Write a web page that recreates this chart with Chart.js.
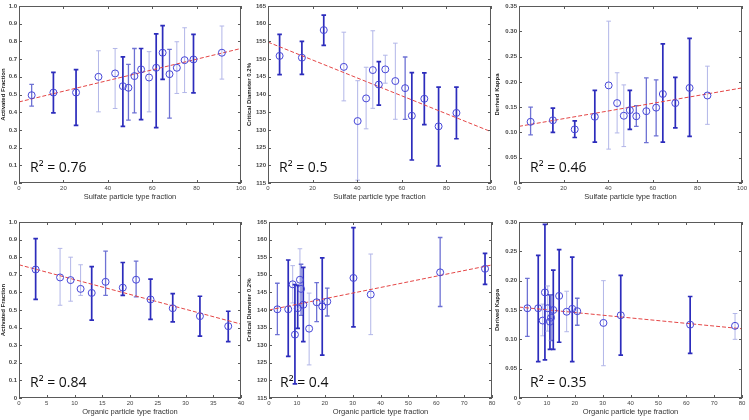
<!DOCTYPE html>
<html>
<head>
<meta charset="utf-8">
<script src="https://cdn.jsdelivr.net/npm/chart.js@4.4.0/dist/chart.umd.min.js"></script>
<style>
  body { margin: 0; background: #fff; }
  #wrap { position: relative; width: 749px; height: 420px; }
  canvas { position: absolute; }
</style>
</head>
<body>
<div id="wrap">
  <canvas id="c1" width="248" height="205" style="left:0;top:0"></canvas>
  <canvas id="c2" width="254" height="205" style="left:244px;top:0"></canvas>
  <canvas id="c3" width="255" height="205" style="left:494px;top:0"></canvas>
  <canvas id="c4" width="248" height="206" style="left:0;top:214px"></canvas>
  <canvas id="c5" width="254" height="206" style="left:244px;top:214px"></canvas>
  <canvas id="c6" width="255" height="206" style="left:494px;top:214px"></canvas>
</div>
<script>
// ---- data ----
// top-left: activated fraction vs sulfate fraction
const sulfX17 = [5.7, 15.5, 25.7, 35.8, 43.3, 46.8, 49.3, 52, 55, 58.6, 61.8, 64.7, 67.8, 71.1, 74.6, 78.6, 91.4];
const sulfAF = [0.496, 0.511, 0.511, 0.600, 0.619, 0.547, 0.538, 0.604, 0.642, 0.596, 0.651, 0.736, 0.615, 0.651, 0.694, 0.698, 0.736];
const sulfAFHi = [0.557, 0.625, 0.64, 0.747, 0.76, 0.713, 0.67, 0.76, 0.76, 0.742, 0.842, 0.889, 0.755, 0.798, 0.877, 0.84, 0.887];
const sulfAFLo = [0.434, 0.396, 0.326, 0.402, 0.421, 0.32, 0.355, 0.396, 0.358, 0.402, 0.313, 0.585, 0.366, 0.506, 0.511, 0.509, 0.587];
const sulfAFWeight = [2, 3, 3, 1, 1, 3, 2, 2, 3, 1, 3, 3, 2, 1, 1, 3, 1];
const sulfAFFit = [0.458, 0.76];

// top-middle / top-right share the sulfate bins
const sulfX15 = [5.2, 15.2, 25, 34, 40.2, 44, 47, 49.7, 52.6, 57.1, 61.5, 64.5, 70.1, 76.5, 84.5];
const sulfDc = [150.9, 150.4, 158.2, 147.8, 132.5, 138.9, 146.9, 142.8, 147.1, 143.8, 141.8, 134.0, 138.8, 131.0, 134.8];
const sulfDcHi = [157.0, 155.0, 162.4, 157.6, 143.9, 147.7, 158.0, 149.3, 151.1, 154.5, 150.6, 146.2, 146.1, 142.1, 142.1];
const sulfDcLo = [145.6, 145.7, 153.9, 138.2, 115.8, 130.3, 136.1, 137.0, 143.2, 133.0, 133.0, 121.5, 131.5, 119.8, 127.5];
const sulfDcWeight = [3, 3, 3, 1, 1, 1, 1, 3, 1, 1, 2, 3, 3, 3, 3];
const sulfDcFit = [154.8, 129.5];

const sulfK = [0.121, 0.124, 0.106, 0.131, 0.193, 0.158, 0.133, 0.144, 0.132, 0.142, 0.149, 0.176, 0.158, 0.188, 0.173];
const sulfKHi = [0.150, 0.148, 0.123, 0.183, 0.320, 0.218, 0.194, 0.183, 0.153, 0.208, 0.204, 0.275, 0.209, 0.286, 0.231];
const sulfKLo = [0.095, 0.100, 0.090, 0.081, 0.067, 0.099, 0.072, 0.106, 0.112, 0.080, 0.093, 0.081, 0.109, 0.092, 0.116];
const sulfKWeight = [2, 3, 3, 3, 1, 1, 1, 3, 2, 2, 2, 3, 3, 3, 1];
const sulfKFit = [0.112, 0.188];

// bottom-left: activated fraction vs organic fraction
const orgX12 = [3, 7.4, 9.3, 11.1, 13.1, 15.6, 18.7, 21.1, 23.7, 27.7, 32.6, 37.7];
const orgAF = [0.73, 0.685, 0.67, 0.62, 0.597, 0.66, 0.627, 0.672, 0.56, 0.51, 0.465, 0.408];
const orgAFHi = [0.905, 0.85, 0.8, 0.757, 0.746, 0.834, 0.77, 0.778, 0.675, 0.593, 0.578, 0.493];
const orgAFLo = [0.56, 0.527, 0.55, 0.583, 0.443, 0.583, 0.583, 0.575, 0.447, 0.432, 0.352, 0.32];
const orgAFWeight = [3, 1, 1, 1, 3, 2, 3, 2, 3, 3, 3, 3];
const orgAFFit = [0.757, 0.42];

// bottom-middle / bottom-right share the organic bins
const orgX16 = [3, 6.9, 8.5, 9.3, 10.3, 11.1, 11.5, 12.3, 14.4, 17.1, 19.1, 20.9, 30.3, 36.5, 61.4, 77.5];
const orgDc = [140.2, 140.2, 147.3, 133.0, 140.5, 148.6, 146.0, 141.5, 134.7, 142.2, 141.0, 142.4, 149.1, 144.4, 150.7, 151.7];
const orgDcHi = [147.6, 154.2, 152.6, 147.2, 147.0, 157.4, 153.0, 152.1, 144.8, 147.8, 154.8, 146.2, 163.4, 155.9, 160.6, 156.1];
const orgDcLo = [133.0, 126.8, 142.0, 119.0, 134.8, 140.5, 138.5, 131.0, 124.4, 136.7, 127.2, 138.3, 135.2, 133.0, 141.0, 147.3];
const orgDcWeight = [2, 3, 1, 3, 3, 1, 2, 3, 1, 2, 3, 2, 3, 1, 2, 3];
const orgDcFit = [140.0, 152.8];

const orgK = [0.153, 0.153, 0.132, 0.180, 0.153, 0.130, 0.137, 0.150, 0.174, 0.147, 0.152, 0.148, 0.128, 0.141, 0.125, 0.123];
const orgKHi = [0.204, 0.243, 0.160, 0.296, 0.191, 0.176, 0.176, 0.218, 0.253, 0.182, 0.240, 0.170, 0.200, 0.209, 0.173, 0.144];
const orgKLo = [0.105, 0.062, 0.106, 0.065, 0.114, 0.083, 0.098, 0.083, 0.095, 0.113, 0.062, 0.124, 0.055, 0.073, 0.076, 0.100];
const orgKWeight = [2, 3, 1, 3, 1, 3, 2, 3, 3, 1, 3, 2, 1, 3, 3, 1];
const orgKFit = [0.155, 0.118];

const r2Labels = ["R² = 0.76", "R² = 0.5", "R² = 0.46", "R² = 0.84", "R² = 0.4", "R² = 0.35"];

// ---- drawing ----
const barColors = { 1: "rgb(178,182,232)", 2: "rgb(110,114,212)", 3: "rgb(44,44,188)" };
const barWidths = { 1: 1, 2: 1.3, 3: 1.7 };

const errorBars = {
  id: "errorBars",
  beforeDatasetsDraw(chart) {
    const { ctx, scales: { x, y } } = chart;
    const ds = chart.data.datasets[0];
    ctx.save();
    ds.data.forEach((p, i) => {
      const px = x.getPixelForValue(p.x);
      const hiPx = y.getPixelForValue(ds.hi[i]);
      const loPx = y.getPixelForValue(ds.lo[i]);
      ctx.strokeStyle = barColors[ds.weight[i]];
      ctx.lineWidth = barWidths[ds.weight[i]];
      ctx.beginPath();
      ctx.moveTo(px, hiPx); ctx.lineTo(px, loPx);
      ctx.moveTo(px - 2.3, hiPx); ctx.lineTo(px + 2.3, hiPx);
      ctx.moveTo(px - 2.3, loPx); ctx.lineTo(px + 2.3, loPx);
      ctx.stroke();
    });
    ctx.restore();
  }
};

// matlab style box with inward ticks, plus the R² note
const frame = {
  id: "frame",
  afterDraw(chart, args, opts) {
    const { ctx, chartArea: a, scales: { x, y } } = chart;
    ctx.save();
    ctx.strokeStyle = "#5a5a5a";
    ctx.lineWidth = 1;
    ctx.strokeRect(a.left + 0.5, a.top + 0.5, a.width - 1, a.height - 1);
    ctx.beginPath();
    x.ticks.forEach(t => {
      const px = Math.round(x.getPixelForValue(t.value)) + 0.5;
      ctx.moveTo(px, a.bottom); ctx.lineTo(px, a.bottom - 3);
      ctx.moveTo(px, a.top); ctx.lineTo(px, a.top + 3);
    });
    y.ticks.forEach(t => {
      const py = Math.round(y.getPixelForValue(t.value)) + 0.5;
      ctx.moveTo(a.left, py); ctx.lineTo(a.left + 3, py);
      ctx.moveTo(a.right, py); ctx.lineTo(a.right - 3, py);
    });
    ctx.stroke();
    ctx.fillStyle = "#111";
    ctx.font = "14px 'Open Sans'";
    ctx.textBaseline = "middle";
    ctx.fillText(opts.text, a.left + 11, a.bottom - 15);
    ctx.restore();
  }
};

function panel(id, cfg) {
  const pts = cfg.xs.map((v, i) => ({ x: v, y: cfg.ys[i] }));
  const fit = [{ x: cfg.xMin, y: cfg.fit[0] }, { x: cfg.xMax, y: cfg.fit[1] }];
  new Chart(document.getElementById(id), {
    type: "scatter",
    data: {
      datasets: [
        {
          data: pts, hi: cfg.hi, lo: cfg.lo, weight: cfg.weight,
          pointStyle: "circle", pointRadius: 3.5,
          borderColor: "rgb(70,70,215)", backgroundColor: "rgba(0,0,0,0)", borderWidth: 1
        },
        {
          data: fit, showLine: true, pointRadius: 0,
          borderColor: "rgb(228,70,70)", borderWidth: 1, borderDash: [4, 2]
        }
      ]
    },
    options: {
      responsive: false,
      animation: false,
      layout: { padding: { top: cfg.padTop, right: cfg.padRight, left: 0, bottom: 0 } },
      plugins: { legend: { display: false }, tooltip: { enabled: false }, frame: { text: cfg.r2 } },
      scales: {
        x: {
          min: cfg.xMin, max: cfg.xMax,
          grid: { display: false, drawTicks: false }, border: { display: false },
          ticks: { stepSize: cfg.xStep, padding: 2, maxRotation: 0, color: "#444", font: { size: 6, family: "'Liberation Sans'" } },
          title: { display: true, text: cfg.xTitle, color: "#333", padding: { top: 0, bottom: 4 }, font: { size: 7.5, family: "'Liberation Sans'" } },
          afterFit(s) { s.height = 22; }
        },
        y: {
          min: cfg.yMin, max: cfg.yMax,
          grid: { display: false, drawTicks: false }, border: { display: false },
          ticks: { stepSize: cfg.yStep, padding: 2, color: "#444", font: { size: 6, family: "'Liberation Sans'", weight: "bold" } },
          title: { display: true, text: cfg.yTitle, color: "#222", padding: { top: cfg.yTitlePad, bottom: 0 }, font: { size: 6, family: "'Liberation Sans'", weight: "bold" } },
          afterFit(s) { s.width = cfg.yWidth; }
        }
      }
    },
    plugins: [errorBars, frame]
  });
}

const topRow = { padTop: 6, xTitle: "Sulfate particle type fraction", xMin: 0, xMax: 100, xStep: 20 };
const bottomRow = { padTop: 8, xTitle: "Organic particle type fraction", xMin: 0, xMax: 80, xStep: 10 };

panel("c1", Object.assign({}, topRow, {
  xs: sulfX17, ys: sulfAF, hi: sulfAFHi, lo: sulfAFLo, weight: sulfAFWeight, fit: sulfAFFit, r2: r2Labels[0],
  yMin: 0, yMax: 1, yStep: 0.1, yTitle: "Activated Fraction", yWidth: 19, yTitlePad: 0, padRight: 7
}));
panel("c2", Object.assign({}, topRow, {
  xs: sulfX15, ys: sulfDc, hi: sulfDcHi, lo: sulfDcLo, weight: sulfDcWeight, fit: sulfDcFit, r2: r2Labels[1],
  yMin: 115, yMax: 165, yStep: 5, yTitle: "Critical Diameter 0.2%", yWidth: 24, yTitlePad: 2, padRight: 6
}));
panel("c3", Object.assign({}, topRow, {
  xs: sulfX15, ys: sulfK, hi: sulfKHi, lo: sulfKLo, weight: sulfKWeight, fit: sulfKFit, r2: r2Labels[2],
  yMin: 0, yMax: 0.35, yStep: 0.05, yTitle: "Derived Kappa", yWidth: 25, yTitlePad: 0, padRight: 7
}));
panel("c4", Object.assign({}, bottomRow, {
  xs: orgX12, ys: orgAF, hi: orgAFHi, lo: orgAFLo, weight: orgAFWeight, fit: orgAFFit, r2: r2Labels[3],
  xMax: 40, xStep: 5,
  yMin: 0, yMax: 1, yStep: 0.1, yTitle: "Activated Fraction", yWidth: 19, yTitlePad: 0, padRight: 7
}));
panel("c5", Object.assign({}, bottomRow, {
  xs: orgX16, ys: orgDc, hi: orgDcHi, lo: orgDcLo, weight: orgDcWeight, fit: orgDcFit, r2: r2Labels[4],
  yMin: 115, yMax: 165, yStep: 5, yTitle: "Critical Diameter 0.2%", yWidth: 25, yTitlePad: 2, padRight: 6
}));
panel("c6", Object.assign({}, bottomRow, {
  xs: orgX16, ys: orgK, hi: orgKHi, lo: orgKLo, weight: orgKWeight, fit: orgKFit, r2: r2Labels[5],
  yMin: 0, yMax: 0.3, yStep: 0.05, yTitle: "Derived Kappa", yWidth: 25, yTitlePad: 0, padRight: 7
}));
</script>
</body>
</html>
